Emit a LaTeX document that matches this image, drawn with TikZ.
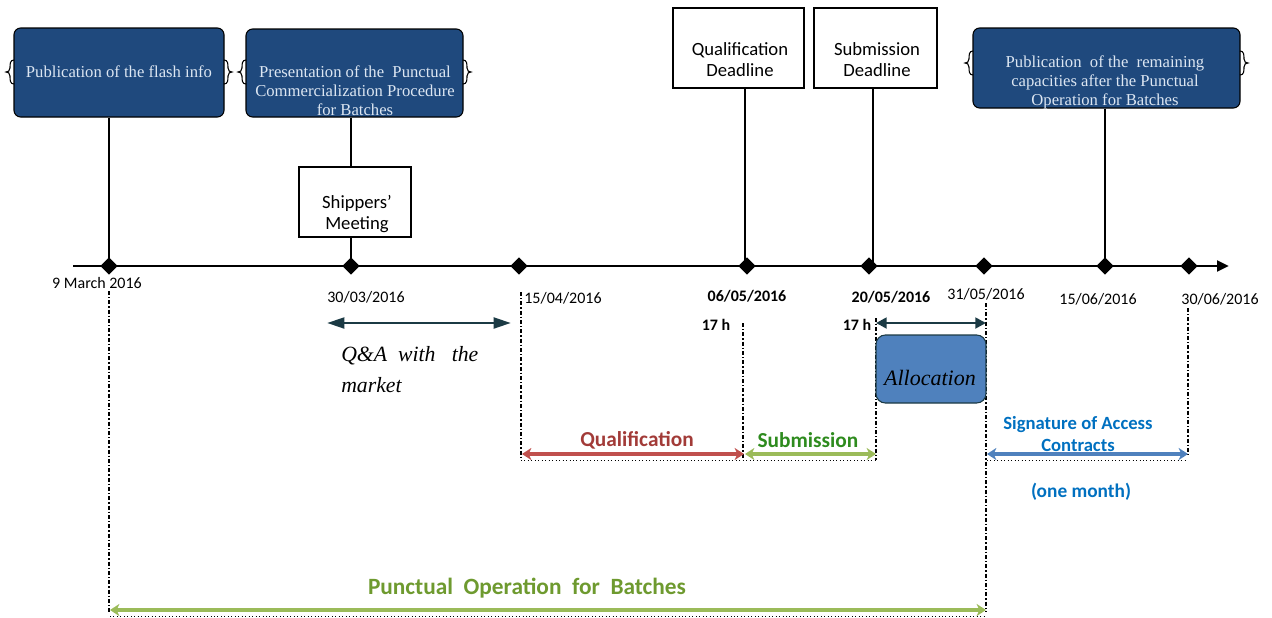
\documentclass[tikz,border=0pt]{standalone}
\usepackage{fontspec}
\setmainfont{Carlito}
\newfontfamily\cambria{Liberation Serif}
\usetikzlibrary{shapes.geometric,arrows.meta}
\definecolor{dbox}{HTML}{1F497D}
\definecolor{dtext}{HTML}{DCE6F2}
\definecolor{teal}{HTML}{1B3A44}
\definecolor{qred}{HTML}{C0504D}
\definecolor{qredt}{HTML}{A23B38}
\definecolor{sgreen}{HTML}{9BBB59}
\definecolor{sgreent}{HTML}{2E8B1E}
\definecolor{pgreent}{HTML}{6E9A2F}
\definecolor{sblue}{HTML}{4F81BD}
\definecolor{sbluet}{HTML}{0070C0}
\tikzset{
  darkbox/.style={draw=black, line width=0.8pt, fill=dbox, rounded corners=5pt, inner sep=0pt},
  whitebox/.style={draw=black, line width=1.5pt, fill=white, inner sep=0pt},
  whitetext/.style={align=center, font=\fontsize{14}{15.75}\selectfont, inner sep=0pt},
  darktext/.style={text=dtext, align=center, font=\cambria\fontsize{12.5}{14.25}\selectfont, inner sep=0pt},
  dia/.style={diamond, fill=black, inner sep=0pt, minimum width=13pt, minimum height=13pt},
  stem/.style={line width=1.5pt},
  ddash/.style={line width=1pt, dash pattern=on 3pt off 1.5pt on 1pt off 1.5pt},
  datelbl/.style={font=\fontsize{12}{14}\selectfont, inner sep=0pt},
  boldlbl/.style={font=\bfseries\fontsize{12}{14}\selectfont, inner sep=0pt},
  bigarrow/.style={line width=3pt, {Stealth[length=7pt,width=9pt,inset=2pt]}-{Stealth[length=7pt,width=9pt,inset=2pt]}},
  darrow/.style={teal, line width=2.2pt},
  underdot/.style={line width=0.6pt, dotted},
  brace/.style={line width=0.8pt},
  phaselbl/.style={font=\bfseries\fontsize{16}{18}\selectfont, inner sep=0pt},
}
\begin{document}
\begin{tikzpicture}[x=0.75pt,y=-0.75pt]
\useasboundingbox (0,0) rectangle (1272,618);

% timeline
\coordinate (tlstart) at (73,266);
\coordinate (tlend) at (1229,266);
\draw[line width=2.2pt,-{Triangle[length=9pt,width=8pt]}] (tlstart) -- (tlend);
\node[dia] (d1) at (109,266) {};
\node[dia] (d2) at (351,266) {};
\node[dia] (d3) at (519,266) {};
\node[dia] (d4) at (747,266) {};
\node[dia] (d5) at (869,266) {};
\node[dia] (d6) at (984,266) {};
\node[dia] (d7) at (1105,266) {};
\node[dia] (d8) at (1189,266) {};

% dark boxes
\node[darkbox, minimum width=157.5pt, minimum height=66.75pt] (b1) at (119,72.5) {};
\node[darktext] at (119,72) {Publication of the flash info};
\node[darkbox, minimum width=162.75pt, minimum height=66pt] (b2) at (354.5,73) {};
\node[darktext] at (355,91) {Presentation of the \ Punctual\\Commercialization Procedure\\for Batches};
\node[darkbox, minimum width=200.25pt, minimum height=60pt] (b3) at (1106.5,68) {};
\node[darktext] at (1105,82) {Publication \ of the \ remaining\\capacities after the Punctual\\Operation for Batches};

% braces
\foreach \xl/\xr/\yc in {14/224/72, 246/463/72, 973/1240/63}{
  \draw[brace] (\xl,\yc-12) .. controls (\xl-4,\yc-12) and (\xl-4,\yc-8) .. (\xl-4,\yc-4) .. controls (\xl-4,\yc-1) and (\xl-6,\yc) .. (\xl-8,\yc) .. controls (\xl-6,\yc) and (\xl-4,\yc+1) .. (\xl-4,\yc+4) .. controls (\xl-4,\yc+8) and (\xl-4,\yc+12) .. (\xl,\yc+12);
  \draw[brace] (\xr,\yc-12) .. controls (\xr+4,\yc-12) and (\xr+4,\yc-8) .. (\xr+4,\yc-4) .. controls (\xr+4,\yc-1) and (\xr+6,\yc) .. (\xr+8,\yc) .. controls (\xr+6,\yc) and (\xr+4,\yc+1) .. (\xr+4,\yc+4) .. controls (\xr+4,\yc+8) and (\xr+4,\yc+12) .. (\xr,\yc+12);
}

% white boxes
\node[whitebox, minimum width=84pt, minimum height=52.5pt] (sm) at (355,202) {};
\node[whitetext] at (357,214) {Shippers’\\Meeting};
\node[whitebox, minimum width=98.25pt, minimum height=60pt] (qd) at (738.5,48) {};
\node[whitetext] at (740,60) {Qualification\\Deadline};
\node[whitebox, minimum width=92.25pt, minimum height=60pt] (sd) at (875.5,48) {};
\node[whitetext] at (877,60) {Submission\\Deadline};

% stems
\draw[stem] (b1.south -| d1) -- (d1.center);
\draw[stem] (b2.south -| d2) -- (sm.north -| d2);
\draw[stem] (sm.south -| d2) -- (d2.center);
\draw[stem] (qd.south -| 745,0) -- (745,266);
\draw[stem] (sd.south -| 873,0) -- (873,266);
\draw[stem] (b3.south -| d7) -- (d7.center);

% dates
\node[datelbl] at (97,283) {9 March 2016};
\node[datelbl] at (366,297) {30/03/2016};
\node[datelbl] at (563,298) {15/04/2016};
\node[boldlbl] at (747,296) {06/05/2016};
\node[boldlbl] at (891,297) {20/05/2016};
\node[datelbl] at (986,294) {31/05/2016};
\node[datelbl] at (1098,299) {15/06/2016};
\node[datelbl] at (1220,299) {30/06/2016};
\node[boldlbl] at (716,325) {17 h};
\node[boldlbl] at (857,325) {17 h};

% dash-dot guides
\coordinate (g1a) at (109,291); \coordinate (g1b) at (109,612);
\coordinate (g2a) at (521,292); \coordinate (g2b) at (521,458);
\coordinate (g3a) at (743,323); \coordinate (g3b) at (743,458);
\coordinate (g4a) at (876,318); \coordinate (g4b) at (876,460);
\coordinate (g5a) at (986,303); \coordinate (g5b) at (986,612);
\coordinate (g6a) at (1188,308); \coordinate (g6b) at (1188,456);
\foreach \g in {1,...,6}{\draw[ddash] (g\g a) -- (g\g b);}

% Q&A
\draw[darrow, {Triangle[length=13pt,width=8pt]}-{Triangle[length=13pt,width=8pt]}] (327,323) -- (511,323);
\node[font=\cambria\itshape\fontsize{16.3}{23.25}\selectfont, align=left, anchor=north west, inner sep=0pt] (qa) at (341,346) {Q\&A \ with \ \ the\\market};

% Allocation
\draw[darrow, {Triangle[length=8pt,width=8pt]}-{Triangle[length=8pt,width=8pt]}] (g4a |- 0,323) -- (g5a |- 0,323);
\node[draw=teal, line width=0.8pt, fill=sblue, rounded corners=7pt, minimum width=82.5pt, minimum height=51pt, inner sep=0pt] (alloc) at (931,369) {};
\node[font=\cambria\itshape\fontsize{16.5}{18}\selectfont, text=black, inner sep=0pt] at (930,378) {Allocation};

% phases
\coordinate (qa1) at (522,454); \coordinate (qa2) at (744,454);
\coordinate (sa1) at (745,454); \coordinate (sa2) at (876,454);
\coordinate (ba1) at (987,454); \coordinate (ba2) at (1188,454);
\coordinate (pa1) at (110,610); \coordinate (pa2) at (986,610);
\draw[underdot] (521,460) -- (876,460);
\draw[underdot] (987,460) -- (1188,460);
\draw[underdot] (110,616) -- (986,616);
\draw[bigarrow, qred] (qa1) -- (qa2);
\draw[bigarrow, sgreen] (sa1) -- (sa2);
\draw[bigarrow, sblue] (ba1) -- (ba2);
\draw[bigarrow, sgreen] (pa1) -- (pa2);
\node[phaselbl, text=qredt] at (637,440) {Qualification};
\node[phaselbl, text=sgreent] at (808,440) {Submission};
\node[phaselbl, text=sbluet, align=center, font=\bfseries\fontsize{14}{17}\selectfont] at (1078,434) {Signature of Access\\Contracts};
\node[phaselbl, text=sbluet, font=\bfseries\fontsize{14.5}{16}\selectfont] at (1081,492) {(one month)};
\node[phaselbl, text=pgreent, font=\bfseries\fontsize{17.5}{20}\selectfont] at (527,588) {Punctual \ Operation \ for \ Batches};
\end{tikzpicture}
\end{document}
